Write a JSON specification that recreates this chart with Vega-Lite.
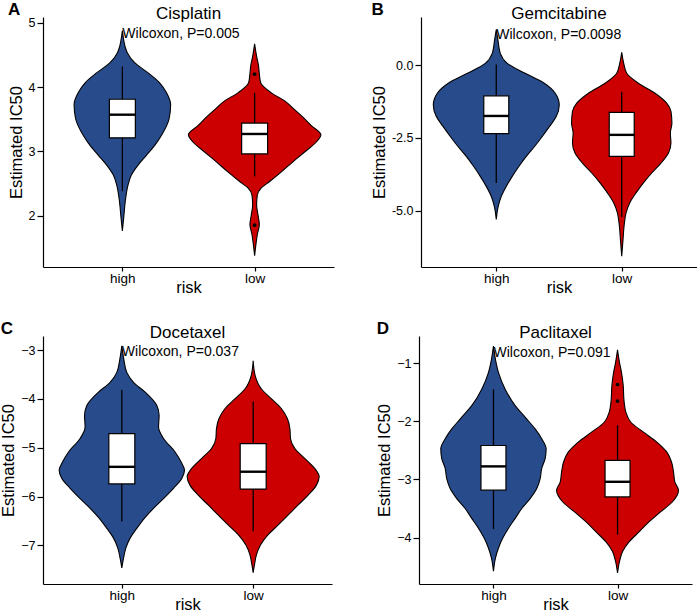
{
  "$schema": "https://vega.github.io/schema/vega-lite/v6.json",
  "background": "white",
  "padding": {"left": 0, "top": 0, "right": 0, "bottom": 0},
  "config": {
    "view": {"stroke": null},
    "font": "Liberation Sans",
    "title": {"font": "Liberation Sans", "fontSize": 17, "fontWeight": "normal", "color": "black", "offset": -6},
    "axis": {"domainColor": "black", "domainWidth": 1.2, "tickColor": "black", "tickWidth": 1.2, "labelFont": "Liberation Sans", "labelFontSize": 12.5, "labelColor": "black", "titleFont": "Liberation Sans", "titleFontSize": 16.5, "titleFontWeight": "normal", "titleColor": "black", "grid": false},
    "axisY": {"titlePadding": 4, "tickSize": 6, "labelPadding": 2},
    "axisX": {"titlePadding": -5.5, "labelPadding": 0, "tickSize": 4, "labelFontSize": 13.5, "labelAngle": 0}
  },
  "datasets": {
    "A_v": [
      {"risk": "high", "value": 4.88, "density": 0},
      {"risk": "high", "value": 4.734, "density": 0.020},
      {"risk": "high", "value": 4.63, "density": 0.041},
      {"risk": "high", "value": 4.53, "density": 0.076},
      {"risk": "high", "value": 4.375, "density": 0.190},
      {"risk": "high", "value": 4.22, "density": 0.390},
      {"risk": "high", "value": 4.07, "density": 0.560},
      {"risk": "high", "value": 3.91, "density": 0.668},
      {"risk": "high", "value": 3.73, "density": 0.730},
      {"risk": "high", "value": 3.503, "density": 0.706},
      {"risk": "high", "value": 3.246, "density": 0.590},
      {"risk": "high", "value": 3.092, "density": 0.489},
      {"risk": "high", "value": 2.938, "density": 0.363},
      {"risk": "high", "value": 2.785, "density": 0.237},
      {"risk": "high", "value": 2.63, "density": 0.136},
      {"risk": "high", "value": 2.477, "density": 0.086},
      {"risk": "high", "value": 2.27, "density": 0.050},
      {"risk": "high", "value": 1.965, "density": 0.020},
      {"risk": "high", "value": 1.76, "density": 0},
      {"risk": "low", "value": 4.672, "density": 0},
      {"risk": "low", "value": 4.477, "density": 0.030},
      {"risk": "low", "value": 4.323, "density": 0.060},
      {"risk": "low", "value": 4.206, "density": 0.071},
      {"risk": "low", "value": 4.068, "density": 0.091},
      {"risk": "low", "value": 3.91, "density": 0.252},
      {"risk": "low", "value": 3.785, "density": 0.454},
      {"risk": "low", "value": 3.657, "density": 0.594},
      {"risk": "low", "value": 3.554, "density": 0.706},
      {"risk": "low", "value": 3.40, "density": 0.857},
      {"risk": "low", "value": 3.257, "density": 1.002},
      {"risk": "low", "value": 3.145, "density": 0.933},
      {"risk": "low", "value": 2.99, "density": 0.756},
      {"risk": "low", "value": 2.837, "density": 0.579},
      {"risk": "low", "value": 2.68, "density": 0.404},
      {"risk": "low", "value": 2.53, "density": 0.227},
      {"risk": "low", "value": 2.43, "density": 0.101},
      {"risk": "low", "value": 2.32, "density": 0.041},
      {"risk": "low", "value": 2.17, "density": 0.030},
      {"risk": "low", "value": 2.015, "density": 0.050},
      {"risk": "low", "value": 1.86, "density": 0.071},
      {"risk": "low", "value": 1.71, "density": 0.041},
      {"risk": "low", "value": 1.555, "density": 0.020},
      {"risk": "low", "value": 1.375, "density": 0}
    ],
    "A_b": [
      {"risk": "high", "lower": 2.38, "q1": 3.21, "median": 3.57, "q3": 3.81, "upper": 4.32},
      {"risk": "low", "lower": 2.61, "q1": 2.96, "median": 3.27, "q3": 3.44, "upper": 3.91}
    ],
    "A_o": [
      {"risk": "low", "value": 4.20},
      {"risk": "low", "value": 1.85}
    ],
    "A_t": [{"risk": "high", "value": 4.83, "label": "Wilcoxon, P=0.005"}],
    "B_v": [
      {"risk": "high", "value": 1.22, "density": 0},
      {"risk": "high", "value": 0.856, "density": 0.027},
      {"risk": "high", "value": 0.40, "density": 0.064},
      {"risk": "high", "value": 0.058, "density": 0.175},
      {"risk": "high", "value": -0.285, "density": 0.460},
      {"risk": "high", "value": -0.627, "density": 0.765},
      {"risk": "high", "value": -0.97, "density": 0.940},
      {"risk": "high", "value": -1.37, "density": 1.004},
      {"risk": "high", "value": -1.77, "density": 0.956},
      {"risk": "high", "value": -2.11, "density": 0.849},
      {"risk": "high", "value": -2.455, "density": 0.733},
      {"risk": "high", "value": -2.80, "density": 0.610},
      {"risk": "high", "value": -3.14, "density": 0.478},
      {"risk": "high", "value": -3.48, "density": 0.362},
      {"risk": "high", "value": -3.825, "density": 0.255},
      {"risk": "high", "value": -4.17, "density": 0.159},
      {"risk": "high", "value": -4.51, "density": 0.080},
      {"risk": "high", "value": -4.85, "density": 0.032},
      {"risk": "high", "value": -5.31, "density": 0},
      {"risk": "low", "value": 0.44, "density": 0},
      {"risk": "low", "value": 0.058, "density": 0.032},
      {"risk": "low", "value": -0.285, "density": 0.080},
      {"risk": "low", "value": -0.627, "density": 0.266},
      {"risk": "low", "value": -0.97, "density": 0.531},
      {"risk": "low", "value": -1.31, "density": 0.717},
      {"risk": "low", "value": -1.60, "density": 0.786},
      {"risk": "low", "value": -2.0, "density": 0.800},
      {"risk": "low", "value": -2.34, "density": 0.775},
      {"risk": "low", "value": -2.68, "density": 0.785},
      {"risk": "low", "value": -3.02, "density": 0.745},
      {"risk": "low", "value": -3.37, "density": 0.626},
      {"risk": "low", "value": -3.71, "density": 0.478},
      {"risk": "low", "value": -4.05, "density": 0.346},
      {"risk": "low", "value": -4.395, "density": 0.228},
      {"risk": "low", "value": -4.74, "density": 0.127},
      {"risk": "low", "value": -5.08, "density": 0.069},
      {"risk": "low", "value": -5.54, "density": 0.037},
      {"risk": "low", "value": -5.99, "density": 0.021},
      {"risk": "low", "value": -6.57, "density": 0}
    ],
    "B_b": [
      {"risk": "high", "lower": -4.05, "q1": -2.36, "median": -1.75, "q3": -1.06, "upper": 0.02},
      {"risk": "low", "lower": -5.22, "q1": -3.14, "median": -2.40, "q3": -1.63, "upper": -0.92}
    ],
    "B_t": [{"risk": "high", "value": 1.045, "label": "Wilcoxon, P=0.0098"}],
    "C_v": [
      {"risk": "high", "value": -2.912, "density": 0},
      {"risk": "high", "value": -3.183, "density": 0.030},
      {"risk": "high", "value": -3.455, "density": 0.076},
      {"risk": "high", "value": -3.66, "density": 0.178},
      {"risk": "high", "value": -3.86, "density": 0.355},
      {"risk": "high", "value": -4.135, "density": 0.533},
      {"risk": "high", "value": -4.34, "density": 0.568},
      {"risk": "high", "value": -4.575, "density": 0.559},
      {"risk": "high", "value": -4.81, "density": 0.635},
      {"risk": "high", "value": -5.085, "density": 0.811},
      {"risk": "high", "value": -5.29, "density": 0.903},
      {"risk": "high", "value": -5.46, "density": 0.954},
      {"risk": "high", "value": -5.63, "density": 0.913},
      {"risk": "high", "value": -5.83, "density": 0.787},
      {"risk": "high", "value": -6.04, "density": 0.635},
      {"risk": "high", "value": -6.24, "density": 0.482},
      {"risk": "high", "value": -6.44, "density": 0.346},
      {"risk": "high", "value": -6.65, "density": 0.228},
      {"risk": "high", "value": -6.85, "density": 0.126},
      {"risk": "high", "value": -7.055, "density": 0.061},
      {"risk": "high", "value": -7.26, "density": 0.026},
      {"risk": "high", "value": -7.46, "density": 0},
      {"risk": "low", "value": -3.218, "density": 0},
      {"risk": "low", "value": -3.52, "density": 0.030},
      {"risk": "low", "value": -3.795, "density": 0.126},
      {"risk": "low", "value": -3.998, "density": 0.279},
      {"risk": "low", "value": -4.20, "density": 0.431},
      {"risk": "low", "value": -4.406, "density": 0.522},
      {"risk": "low", "value": -4.61, "density": 0.559},
      {"risk": "low", "value": -4.81, "density": 0.568},
      {"risk": "low", "value": -5.017, "density": 0.635},
      {"risk": "low", "value": -5.22, "density": 0.787},
      {"risk": "low", "value": -5.425, "density": 0.939},
      {"risk": "low", "value": -5.595, "density": 1.005},
      {"risk": "low", "value": -5.765, "density": 0.963},
      {"risk": "low", "value": -5.97, "density": 0.837},
      {"risk": "low", "value": -6.17, "density": 0.685},
      {"risk": "low", "value": -6.376, "density": 0.533},
      {"risk": "low", "value": -6.58, "density": 0.381},
      {"risk": "low", "value": -6.78, "density": 0.228},
      {"risk": "low", "value": -6.99, "density": 0.111},
      {"risk": "low", "value": -7.19, "density": 0.050},
      {"risk": "low", "value": -7.395, "density": 0.020},
      {"risk": "low", "value": -7.56, "density": 0}
    ],
    "C_b": [
      {"risk": "high", "lower": -6.51, "q1": -5.74, "median": -5.39, "q3": -4.71, "upper": -3.81},
      {"risk": "low", "lower": -6.71, "q1": -5.846, "median": -5.49, "q3": -4.915, "upper": -4.05}
    ],
    "C_t": [{"risk": "high", "value": -3.03, "label": "Wilcoxon, P=0.037"}],
    "D_v": [
      {"risk": "high", "value": -0.704, "density": 0},
      {"risk": "high", "value": -0.932, "density": 0.032},
      {"risk": "high", "value": -1.16, "density": 0.081},
      {"risk": "high", "value": -1.445, "density": 0.189},
      {"risk": "high", "value": -1.73, "density": 0.350},
      {"risk": "high", "value": -1.96, "density": 0.537},
      {"risk": "high", "value": -2.13, "density": 0.672},
      {"risk": "high", "value": -2.30, "density": 0.778},
      {"risk": "high", "value": -2.47, "density": 0.849},
      {"risk": "high", "value": -2.64, "density": 0.833},
      {"risk": "high", "value": -2.81, "density": 0.778},
      {"risk": "high", "value": -2.985, "density": 0.753},
      {"risk": "high", "value": -3.156, "density": 0.698},
      {"risk": "high", "value": -3.33, "density": 0.591},
      {"risk": "high", "value": -3.50, "density": 0.456},
      {"risk": "high", "value": -3.67, "density": 0.350},
      {"risk": "high", "value": -3.84, "density": 0.242},
      {"risk": "high", "value": -4.01, "density": 0.150},
      {"risk": "high", "value": -4.18, "density": 0.081},
      {"risk": "high", "value": -4.355, "density": 0.032},
      {"risk": "high", "value": -4.58, "density": 0},
      {"risk": "low", "value": -0.77, "density": 0},
      {"risk": "low", "value": -0.988, "density": 0.032},
      {"risk": "low", "value": -1.16, "density": 0.064},
      {"risk": "low", "value": -1.39, "density": 0.092},
      {"risk": "low", "value": -1.616, "density": 0.102},
      {"risk": "low", "value": -1.84, "density": 0.134},
      {"risk": "low", "value": -2.015, "density": 0.214},
      {"risk": "low", "value": -2.186, "density": 0.419},
      {"risk": "low", "value": -2.357, "density": 0.633},
      {"risk": "low", "value": -2.53, "density": 0.795},
      {"risk": "low", "value": -2.70, "density": 0.870},
      {"risk": "low", "value": -2.87, "density": 0.902},
      {"risk": "low", "value": -3.04, "density": 0.923},
      {"risk": "low", "value": -3.186, "density": 0.983},
      {"risk": "low", "value": -3.384, "density": 0.886},
      {"risk": "low", "value": -3.555, "density": 0.698},
      {"risk": "low", "value": -3.726, "density": 0.511},
      {"risk": "low", "value": -3.90, "density": 0.350},
      {"risk": "low", "value": -4.07, "density": 0.189},
      {"risk": "low", "value": -4.24, "density": 0.081},
      {"risk": "low", "value": -4.41, "density": 0.032},
      {"risk": "low", "value": -4.61, "density": 0}
    ],
    "D_b": [
      {"risk": "high", "lower": -3.855, "q1": -3.185, "median": -2.775, "q3": -2.415, "upper": -1.45},
      {"risk": "low", "lower": -3.95, "q1": -3.30, "median": -3.04, "q3": -2.67, "upper": -2.065}
    ],
    "D_o": [
      {"risk": "low", "value": -1.365},
      {"risk": "low", "value": -1.65}
    ],
    "D_t": [{"risk": "high", "value": -0.817, "label": "Wilcoxon, P=0.091"}]
  },
  "vconcat": [
    {
      "hconcat": [
        {
          "title": {"text": "A", "anchor": "start", "frame": "bounds", "fontSize": 17, "fontWeight": "bold", "offset": -14},
          "vconcat": [
            {
              "width": 291, "height": 250,
              "title": {"text": "Cisplatin"},
              "layer": [
                {
                  "data": {"name": "A_v"},
                  "transform": [{"filter": "datum.risk === 'high'"}],
                  "mark": {"type": "area", "orient": "horizontal", "interpolate": "monotone", "fill": "#284b8c", "stroke": "black", "strokeWidth": 1.1},
                  "encoding": {
                    "y": {"field": "value", "type": "quantitative", "title": "Estimated IC50", "scale": {"domain": [1.2, 5.09], "nice": false, "zero": false}, "axis": {"values": [2, 3, 4, 5], "format": "d"}},
                    "x": {"field": "density", "type": "quantitative", "stack": "center", "impute": null, "scale": {"domain": [-0.235, 1.965], "nice": false, "zero": false}, "axis": null}
                  }
                },
                {
                  "data": {"name": "A_v"},
                  "transform": [{"filter": "datum.risk === 'low'"}],
                  "mark": {"type": "area", "orient": "horizontal", "interpolate": "monotone", "fill": "#cc0000", "stroke": "black", "strokeWidth": 1.1},
                  "encoding": {
                    "y": {"field": "value", "type": "quantitative", "title": "Estimated IC50", "scale": {"domain": [1.2, 5.09], "nice": false, "zero": false}, "axis": {"values": [2, 3, 4, 5], "format": "d"}},
                    "x": {"field": "density", "type": "quantitative", "stack": "center", "impute": null, "scale": {"domain": [-1.099, 1.101], "nice": false, "zero": false}, "axis": null}
                  }
                },
                {
                  "layer": [
                    {
                      "data": {"name": "A_b"},
                      "mark": {"type": "rule", "strokeWidth": 1.3, "color": "black"},
                      "encoding": {
                        "x": {"field": "risk", "type": "nominal", "title": "risk", "scale": {"type": "point", "padding": 0.6, "domain": ["high", "low"]}},
                        "y": {"field": "lower", "type": "quantitative", "title": "Estimated IC50", "scale": {"domain": [1.2, 5.09], "nice": false, "zero": false}, "axis": {"values": [2, 3, 4, 5], "format": "d"}},
                        "y2": {"field": "upper"}
                      }
                    },
                    {
                      "data": {"name": "A_b"},
                      "mark": {"type": "bar", "size": 26, "fill": "white", "stroke": "black", "strokeWidth": 1.2},
                      "encoding": {
                        "x": {"field": "risk", "type": "nominal", "title": "risk", "scale": {"type": "point", "padding": 0.6, "domain": ["high", "low"]}},
                        "y": {"field": "q1", "type": "quantitative", "title": "Estimated IC50", "scale": {"domain": [1.2, 5.09], "nice": false, "zero": false}, "axis": {"values": [2, 3, 4, 5], "format": "d"}},
                        "y2": {"field": "q3"}
                      }
                    },
                    {
                      "data": {"name": "A_b"},
                      "mark": {"type": "tick", "orient": "horizontal", "size": 26, "thickness": 2.4, "color": "black", "opacity": 1},
                      "encoding": {
                        "x": {"field": "risk", "type": "nominal", "title": "risk", "scale": {"type": "point", "padding": 0.6, "domain": ["high", "low"]}},
                        "y": {"field": "median", "type": "quantitative", "title": "Estimated IC50", "scale": {"domain": [1.2, 5.09], "nice": false, "zero": false}, "axis": {"values": [2, 3, 4, 5], "format": "d"}}
                      }
                    },
                    {
                      "data": {"name": "A_o"},
                      "mark": {"type": "point", "filled": true, "size": 14, "color": "black", "opacity": 1},
                      "encoding": {
                        "x": {"field": "risk", "type": "nominal", "title": "risk", "scale": {"type": "point", "padding": 0.6, "domain": ["high", "low"]}},
                        "y": {"field": "value", "type": "quantitative", "title": "Estimated IC50", "scale": {"domain": [1.2, 5.09], "nice": false, "zero": false}, "axis": {"values": [2, 3, 4, 5], "format": "d"}}
                      }
                    },
                    {
                      "data": {"name": "A_t"},
                      "mark": {"type": "text", "align": "left", "baseline": "middle", "fontSize": 14, "font": "Liberation Sans", "color": "black"},
                      "encoding": {
                        "x": {"field": "risk", "type": "nominal", "title": "risk", "scale": {"type": "point", "padding": 0.6, "domain": ["high", "low"]}},
                        "y": {"field": "value", "type": "quantitative", "title": "Estimated IC50", "scale": {"domain": [1.2, 5.09], "nice": false, "zero": false}, "axis": {"values": [2, 3, 4, 5], "format": "d"}},
                        "text": {"field": "label"}
                      }
                    }
                  ]
                }
              ],
              "resolve": {"scale": {"x": "independent"}}
            }
          ]
        },
        {
          "title": {"text": "B", "anchor": "start", "frame": "bounds", "fontSize": 17, "fontWeight": "bold", "offset": -14},
          "vconcat": [
            {
              "width": 276, "height": 250,
              "title": {"text": "Gemcitabine"},
              "layer": [
                {
                  "data": {"name": "B_v"},
                  "transform": [{"filter": "datum.risk === 'high'"}],
                  "mark": {"type": "area", "orient": "horizontal", "interpolate": "monotone", "fill": "#284b8c", "stroke": "black", "strokeWidth": 1.1},
                  "encoding": {
                    "y": {"field": "value", "type": "quantitative", "title": "Estimated IC50", "scale": {"domain": [-6.94, 1.65], "nice": false, "zero": false}, "axis": {"values": [-5, -2.5, 0], "format": ".1f", "labelExpr": "replace(datum.label, '\u2212', '-')"}},
                    "x": {"field": "density", "type": "quantitative", "stack": "center", "impute": null, "scale": {"domain": [-0.098, 2.102], "nice": false, "zero": false}, "axis": null}
                  }
                },
                {
                  "data": {"name": "B_v"},
                  "transform": [{"filter": "datum.risk === 'low'"}],
                  "mark": {"type": "area", "orient": "horizontal", "interpolate": "monotone", "fill": "#cc0000", "stroke": "black", "strokeWidth": 1.1},
                  "encoding": {
                    "y": {"field": "value", "type": "quantitative", "title": "Estimated IC50", "scale": {"domain": [-6.94, 1.65], "nice": false, "zero": false}, "axis": {"values": [-5, -2.5, 0], "format": ".1f", "labelExpr": "replace(datum.label, '\u2212', '-')"}},
                    "x": {"field": "density", "type": "quantitative", "stack": "center", "impute": null, "scale": {"domain": [-1.2, 1.0], "nice": false, "zero": false}, "axis": null}
                  }
                },
                {
                  "layer": [
                    {
                      "data": {"name": "B_b"},
                      "mark": {"type": "rule", "strokeWidth": 1.3, "color": "black"},
                      "encoding": {
                        "x": {"field": "risk", "type": "nominal", "title": "risk", "scale": {"type": "point", "padding": 0.6, "domain": ["high", "low"]}},
                        "y": {"field": "lower", "type": "quantitative", "title": "Estimated IC50", "scale": {"domain": [-6.94, 1.65], "nice": false, "zero": false}, "axis": {"values": [-5, -2.5, 0], "format": ".1f", "labelExpr": "replace(datum.label, '\u2212', '-')"}},
                        "y2": {"field": "upper"}
                      }
                    },
                    {
                      "data": {"name": "B_b"},
                      "mark": {"type": "bar", "size": 25, "fill": "white", "stroke": "black", "strokeWidth": 1.2},
                      "encoding": {
                        "x": {"field": "risk", "type": "nominal", "title": "risk", "scale": {"type": "point", "padding": 0.6, "domain": ["high", "low"]}},
                        "y": {"field": "q1", "type": "quantitative", "title": "Estimated IC50", "scale": {"domain": [-6.94, 1.65], "nice": false, "zero": false}, "axis": {"values": [-5, -2.5, 0], "format": ".1f", "labelExpr": "replace(datum.label, '\u2212', '-')"}},
                        "y2": {"field": "q3"}
                      }
                    },
                    {
                      "data": {"name": "B_b"},
                      "mark": {"type": "tick", "orient": "horizontal", "size": 25, "thickness": 2.4, "color": "black", "opacity": 1},
                      "encoding": {
                        "x": {"field": "risk", "type": "nominal", "title": "risk", "scale": {"type": "point", "padding": 0.6, "domain": ["high", "low"]}},
                        "y": {"field": "median", "type": "quantitative", "title": "Estimated IC50", "scale": {"domain": [-6.94, 1.65], "nice": false, "zero": false}, "axis": {"values": [-5, -2.5, 0], "format": ".1f", "labelExpr": "replace(datum.label, '\u2212', '-')"}}
                      }
                    },
                    {
                      "data": {"name": "B_t"},
                      "mark": {"type": "text", "align": "left", "baseline": "middle", "fontSize": 14, "font": "Liberation Sans", "color": "black"},
                      "encoding": {
                        "x": {"field": "risk", "type": "nominal", "title": "risk", "scale": {"type": "point", "padding": 0.6, "domain": ["high", "low"]}},
                        "y": {"field": "value", "type": "quantitative", "title": "Estimated IC50", "scale": {"domain": [-6.94, 1.65], "nice": false, "zero": false}, "axis": {"values": [-5, -2.5, 0], "format": ".1f", "labelExpr": "replace(datum.label, '\u2212', '-')"}},
                        "text": {"field": "label"}
                      }
                    }
                  ]
                }
              ],
              "resolve": {"scale": {"x": "independent"}}
            }
          ]
        }
      ],
      "spacing": 37
    },
    {
      "hconcat": [
        {
          "title": {"text": "C", "anchor": "start", "frame": "bounds", "fontSize": 17, "fontWeight": "bold", "offset": -14},
          "vconcat": [
            {
              "width": 289, "height": 248,
              "title": {"text": "Docetaxel"},
              "layer": [
                {
                  "data": {"name": "C_v"},
                  "transform": [{"filter": "datum.risk === 'high'"}],
                  "mark": {"type": "area", "orient": "horizontal", "interpolate": "monotone", "fill": "#284b8c", "stroke": "black", "strokeWidth": 1.1},
                  "encoding": {
                    "y": {"field": "value", "type": "quantitative", "title": "Estimated IC50", "scale": {"domain": [-7.79, -2.71], "nice": false, "zero": false}, "axis": {"values": [-7, -6, -5, -4, -3], "format": "d"}},
                    "x": {"field": "density", "type": "quantitative", "stack": "center", "impute": null, "scale": {"domain": [-0.123, 2.077], "nice": false, "zero": false}, "axis": null}
                  }
                },
                {
                  "data": {"name": "C_v"},
                  "transform": [{"filter": "datum.risk === 'low'"}],
                  "mark": {"type": "area", "orient": "horizontal", "interpolate": "monotone", "fill": "#cc0000", "stroke": "black", "strokeWidth": 1.1},
                  "encoding": {
                    "y": {"field": "value", "type": "quantitative", "title": "Estimated IC50", "scale": {"domain": [-7.79, -2.71], "nice": false, "zero": false}, "axis": {"values": [-7, -6, -5, -4, -3], "format": "d"}},
                    "x": {"field": "density", "type": "quantitative", "stack": "center", "impute": null, "scale": {"domain": [-1.0975, 1.1025], "nice": false, "zero": false}, "axis": null}
                  }
                },
                {
                  "layer": [
                    {
                      "data": {"name": "C_b"},
                      "mark": {"type": "rule", "strokeWidth": 1.3, "color": "black"},
                      "encoding": {
                        "x": {"field": "risk", "type": "nominal", "title": "risk", "scale": {"type": "point", "padding": 0.6, "domain": ["high", "low"]}},
                        "y": {"field": "lower", "type": "quantitative", "title": "Estimated IC50", "scale": {"domain": [-7.79, -2.71], "nice": false, "zero": false}, "axis": {"values": [-7, -6, -5, -4, -3], "format": "d"}},
                        "y2": {"field": "upper"}
                      }
                    },
                    {
                      "data": {"name": "C_b"},
                      "mark": {"type": "bar", "size": 26, "fill": "white", "stroke": "black", "strokeWidth": 1.2},
                      "encoding": {
                        "x": {"field": "risk", "type": "nominal", "title": "risk", "scale": {"type": "point", "padding": 0.6, "domain": ["high", "low"]}},
                        "y": {"field": "q1", "type": "quantitative", "title": "Estimated IC50", "scale": {"domain": [-7.79, -2.71], "nice": false, "zero": false}, "axis": {"values": [-7, -6, -5, -4, -3], "format": "d"}},
                        "y2": {"field": "q3"}
                      }
                    },
                    {
                      "data": {"name": "C_b"},
                      "mark": {"type": "tick", "orient": "horizontal", "size": 26, "thickness": 2.4, "color": "black", "opacity": 1},
                      "encoding": {
                        "x": {"field": "risk", "type": "nominal", "title": "risk", "scale": {"type": "point", "padding": 0.6, "domain": ["high", "low"]}},
                        "y": {"field": "median", "type": "quantitative", "title": "Estimated IC50", "scale": {"domain": [-7.79, -2.71], "nice": false, "zero": false}, "axis": {"values": [-7, -6, -5, -4, -3], "format": "d"}}
                      }
                    },
                    {
                      "data": {"name": "C_t"},
                      "mark": {"type": "text", "align": "left", "baseline": "middle", "fontSize": 14, "font": "Liberation Sans", "color": "black"},
                      "encoding": {
                        "x": {"field": "risk", "type": "nominal", "title": "risk", "scale": {"type": "point", "padding": 0.6, "domain": ["high", "low"]}},
                        "y": {"field": "value", "type": "quantitative", "title": "Estimated IC50", "scale": {"domain": [-7.79, -2.71], "nice": false, "zero": false}, "axis": {"values": [-7, -6, -5, -4, -3], "format": "d"}},
                        "text": {"field": "label"}
                      }
                    }
                  ]
                }
              ],
              "resolve": {"scale": {"x": "independent"}}
            }
          ]
        },
        {
          "title": {"text": "D", "anchor": "start", "frame": "bounds", "fontSize": 17, "fontWeight": "bold", "offset": -14},
          "vconcat": [
            {
              "width": 273, "height": 248,
              "title": {"text": "Paclitaxel"},
              "layer": [
                {
                  "data": {"name": "D_v"},
                  "transform": [{"filter": "datum.risk === 'high'"}],
                  "mark": {"type": "area", "orient": "horizontal", "interpolate": "monotone", "fill": "#284b8c", "stroke": "black", "strokeWidth": 1.1},
                  "encoding": {
                    "y": {"field": "value", "type": "quantitative", "title": "Estimated IC50", "scale": {"domain": [-4.8, -0.53], "nice": false, "zero": false}, "axis": {"values": [-4, -3, -2, -1], "format": "d"}},
                    "x": {"field": "density", "type": "quantitative", "stack": "center", "impute": null, "scale": {"domain": [-0.1755, 2.0245], "nice": false, "zero": false}, "axis": null}
                  }
                },
                {
                  "data": {"name": "D_v"},
                  "transform": [{"filter": "datum.risk === 'low'"}],
                  "mark": {"type": "area", "orient": "horizontal", "interpolate": "monotone", "fill": "#cc0000", "stroke": "black", "strokeWidth": 1.1},
                  "encoding": {
                    "y": {"field": "value", "type": "quantitative", "title": "Estimated IC50", "scale": {"domain": [-4.8, -0.53], "nice": false, "zero": false}, "axis": {"values": [-4, -3, -2, -1], "format": "d"}},
                    "x": {"field": "density", "type": "quantitative", "stack": "center", "impute": null, "scale": {"domain": [-1.1085, 1.0915], "nice": false, "zero": false}, "axis": null}
                  }
                },
                {
                  "layer": [
                    {
                      "data": {"name": "D_b"},
                      "mark": {"type": "rule", "strokeWidth": 1.3, "color": "black"},
                      "encoding": {
                        "x": {"field": "risk", "type": "nominal", "title": "risk", "scale": {"type": "point", "padding": 0.6, "domain": ["high", "low"]}},
                        "y": {"field": "lower", "type": "quantitative", "title": "Estimated IC50", "scale": {"domain": [-4.8, -0.53], "nice": false, "zero": false}, "axis": {"values": [-4, -3, -2, -1], "format": "d"}},
                        "y2": {"field": "upper"}
                      }
                    },
                    {
                      "data": {"name": "D_b"},
                      "mark": {"type": "bar", "size": 25, "fill": "white", "stroke": "black", "strokeWidth": 1.2},
                      "encoding": {
                        "x": {"field": "risk", "type": "nominal", "title": "risk", "scale": {"type": "point", "padding": 0.6, "domain": ["high", "low"]}},
                        "y": {"field": "q1", "type": "quantitative", "title": "Estimated IC50", "scale": {"domain": [-4.8, -0.53], "nice": false, "zero": false}, "axis": {"values": [-4, -3, -2, -1], "format": "d"}},
                        "y2": {"field": "q3"}
                      }
                    },
                    {
                      "data": {"name": "D_b"},
                      "mark": {"type": "tick", "orient": "horizontal", "size": 25, "thickness": 2.4, "color": "black", "opacity": 1},
                      "encoding": {
                        "x": {"field": "risk", "type": "nominal", "title": "risk", "scale": {"type": "point", "padding": 0.6, "domain": ["high", "low"]}},
                        "y": {"field": "median", "type": "quantitative", "title": "Estimated IC50", "scale": {"domain": [-4.8, -0.53], "nice": false, "zero": false}, "axis": {"values": [-4, -3, -2, -1], "format": "d"}}
                      }
                    },
                    {
                      "data": {"name": "D_o"},
                      "mark": {"type": "point", "filled": true, "size": 14, "color": "black", "opacity": 1},
                      "encoding": {
                        "x": {"field": "risk", "type": "nominal", "title": "risk", "scale": {"type": "point", "padding": 0.6, "domain": ["high", "low"]}},
                        "y": {"field": "value", "type": "quantitative", "title": "Estimated IC50", "scale": {"domain": [-4.8, -0.53], "nice": false, "zero": false}, "axis": {"values": [-4, -3, -2, -1], "format": "d"}}
                      }
                    },
                    {
                      "data": {"name": "D_t"},
                      "mark": {"type": "text", "align": "left", "baseline": "middle", "fontSize": 14, "font": "Liberation Sans", "color": "black"},
                      "encoding": {
                        "x": {"field": "risk", "type": "nominal", "title": "risk", "scale": {"type": "point", "padding": 0.6, "domain": ["high", "low"]}},
                        "y": {"field": "value", "type": "quantitative", "title": "Estimated IC50", "scale": {"domain": [-4.8, -0.53], "nice": false, "zero": false}, "axis": {"values": [-4, -3, -2, -1], "format": "d"}},
                        "text": {"field": "label"}
                      }
                    }
                  ]
                }
              ],
              "resolve": {"scale": {"x": "independent"}}
            }
          ]
        }
      ],
      "spacing": 44
    }
  ],
  "spacing": 24
}
